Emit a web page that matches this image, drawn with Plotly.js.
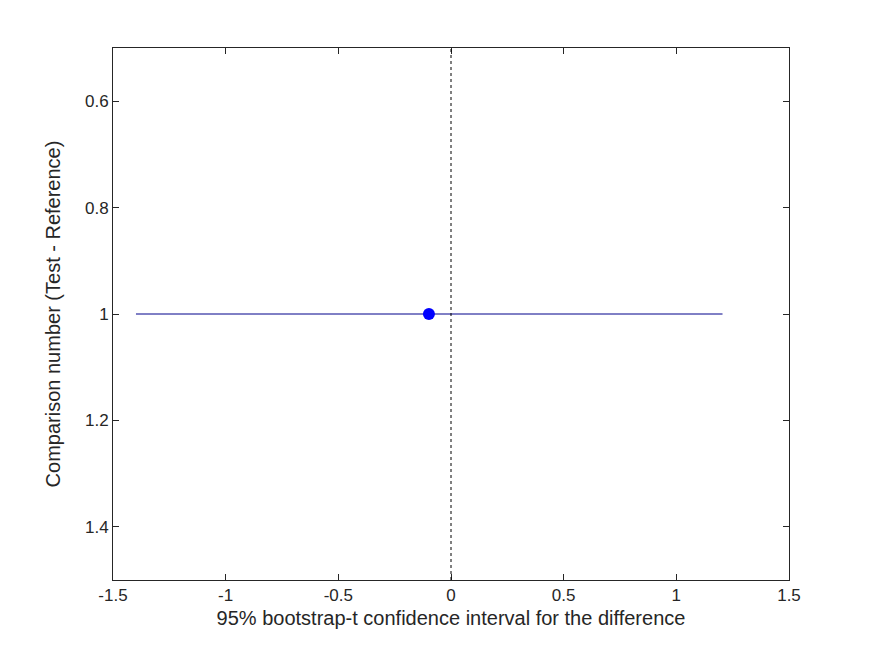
<!DOCTYPE html>
<html>
<head>
<meta charset="utf-8">
<script src="https://cdn.plot.ly/plotly-3.0.1.min.js"></script>
<style>body{margin:0;background:#fff}</style>
</head>
<body>
<div id="chart" style="width:872px;height:654px"></div>
<script>
// comparison data
const comparisons = [1];
const ciLower = [-1.398];
const ciUpper = [1.205];
const estimate = [-0.098];

const ciX = [], ciY = [];
comparisons.forEach((c, i) => {
  ciX.push(ciLower[i], ciUpper[i], null);
  ciY.push(c, c, null);
});

const data = [
  {x: ciX, y: ciY, mode: 'lines', line: {color: '#00008b', width: 1}, hoverinfo: 'skip'},
  {x: estimate, y: comparisons, mode: 'markers', marker: {color: '#0000ff', size: 12}}
];

const layout = {
  width: 872, height: 654,
  margin: {l: 113, r: 83, t: 48, b: 74},
  showlegend: false,
  plot_bgcolor: '#fff', paper_bgcolor: '#fff',
  font: {family: 'Liberation Sans, Arial, sans-serif', size: 17, color: '#262626'},
  xaxis: {
    range: [-1.5, 1.5], tickvals: [-1.5, -1, -0.5, 0, 0.5, 1, 1.5],
    ticktext: ['-1.5', '-1', '-0.5', '0', '0.5', '1', '1.5'],
    ticks: 'inside', ticklen: 6, tickcolor: '#262626', showgrid: false, zeroline: false,
    showline: true, mirror: 'ticks', linecolor: '#262626', linewidth: 1,
    title: {text: '95% bootstrap-t confidence interval for the difference', standoff: 6}
  },
  yaxis: {
    range: [1.5, 0.5], tickvals: [0.6, 0.8, 1, 1.2, 1.4],
    ticktext: ['0.6', '0.8', '1', '1.2', '1.4'],
    ticks: 'inside', ticklen: 6, tickcolor: '#262626', showgrid: false, zeroline: false,
    showline: true, mirror: 'ticks', linecolor: '#262626', linewidth: 1,
    title: {text: 'Comparison number (Test - Reference)', standoff: 18}
  },
  shapes: [{type: 'line', xref: 'x', yref: 'paper', x0: 0, x1: 0, y0: 0, y1: 1,
    line: {color: '#000', width: 1, dash: 'dot'}}]
};

Plotly.newPlot('chart', data, layout, {displayModeBar: false});
</script>
</body>
</html>
